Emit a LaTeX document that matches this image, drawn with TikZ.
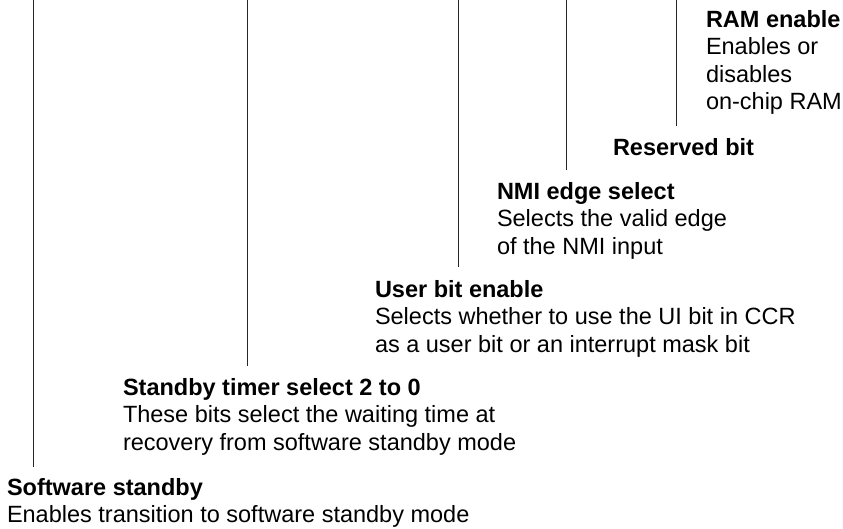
\documentclass[tikz,border=0pt]{standalone}
\usepackage{fontspec}
\setmainfont{Liberation Sans}
\begin{document}
\begin{tikzpicture}[x=1pt,y=1pt,
  lbl/.style={anchor=base west, inner sep=0pt, outer sep=0pt,
    font=\fontsize{23.5}{27.6}\selectfont},
  lead/.style={draw=black!85, line width=0.9pt}]
\useasboundingbox (0,0) rectangle (843,-528);
\newcommand\blk[2]{\begin{tabular}[t]{@{}l@{}}\textbf{#1}\\#2\end{tabular}}
% text blocks
\node[lbl] (ram) at (706,-27) {\blk{RAM enable}{Enables or\\disables\\on-chip RAM}};
\node[lbl] (res) at (613,-155) {\textbf{Reserved bit}};
\node[lbl] (nmi) at (497,-199) {\blk{NMI edge select}{Selects the valid edge\\of the NMI input}};
\node[lbl] (ubit) at (375,-297) {\blk{User bit enable}{Selects whether to use the UI bit in CCR\\as a user bit or an interrupt mask bit}};
\node[lbl] (stm) at (123,-395) {\blk{Standby timer select 2 to 0}{These bits select the waiting time at\\recovery from software standby mode}};
\node[lbl] (ssby) at (7,-495) {\blk{Software standby}{Enables transition to software standby mode}};
% leader lines
\coordinate (t1) at (33,0);   \coordinate (e1) at (33,-467);
\coordinate (t2) at (247,0);  \coordinate (e2) at (247,-366);
\coordinate (t3) at (458,0);  \coordinate (e3) at (458,-267);
\coordinate (t4) at (566,0);  \coordinate (e4) at (566,-170);
\coordinate (t5) at (676,0);  \coordinate (e5) at (676,-126);
\draw[lead] (t1) -- (e1);
\draw[lead] (t2) -- (e2);
\draw[lead] (t3) -- (e3);
\draw[lead] (t4) -- (e4);
\draw[lead] (t5) -- (e5);
\end{tikzpicture}
\end{document}
